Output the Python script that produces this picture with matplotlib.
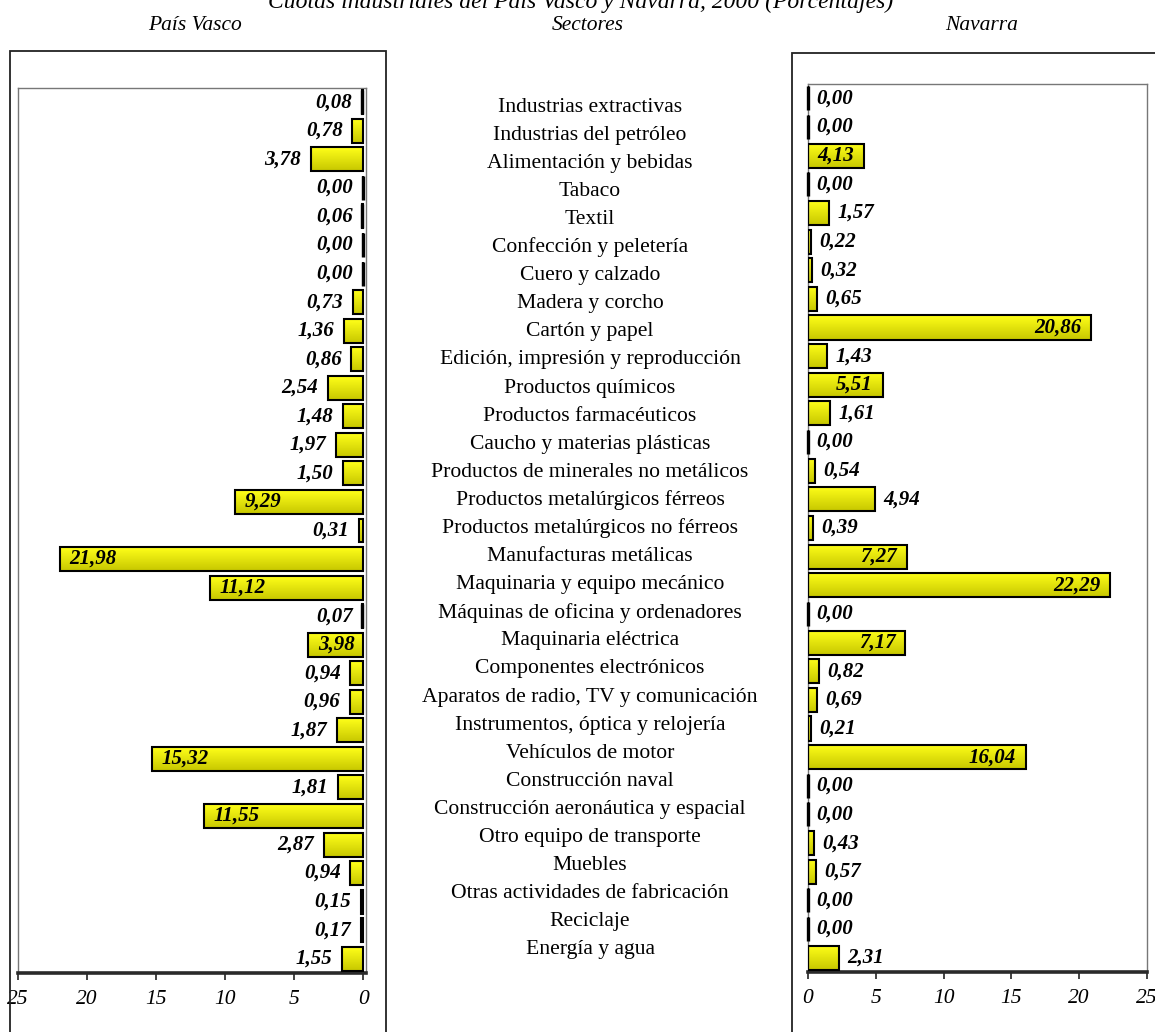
import numpy as np
import matplotlib
matplotlib.use('Agg')
import matplotlib.pyplot as plt
from matplotlib.patches import Rectangle

W, H = 1155, 1032

sectores = [
    'Industrias extractivas', 'Industrias del petróleo', 'Alimentación y bebidas',
    'Tabaco', 'Textil', 'Confección y peletería', 'Cuero y calzado',
    'Madera y corcho', 'Cartón y papel', 'Edición, impresión y reproducción',
    'Productos químicos', 'Productos farmacéuticos', 'Caucho y materias plásticas',
    'Productos de minerales no metálicos', 'Productos metalúrgicos férreos',
    'Productos metalúrgicos no férreos', 'Manufacturas metálicas',
    'Maquinaria y equipo mecánico', 'Máquinas de oficina y ordenadores',
    'Maquinaria eléctrica', 'Componentes electrónicos',
    'Aparatos de radio, TV y comunicación', 'Instrumentos, óptica y relojería',
    'Vehículos de motor', 'Construcción naval', 'Construcción aeronáutica y espacial',
    'Otro equipo de transporte', 'Muebles', 'Otras actividades de fabricación',
    'Reciclaje', 'Energía y agua',
]

pais_vasco = [0.08, 0.78, 3.78, 0.00, 0.06, 0.00, 0.00, 0.73, 1.36, 0.86,
              2.54, 1.48, 1.97, 1.50, 9.29, 0.31, 21.98, 11.12, 0.07, 3.98,
              0.94, 0.96, 1.87, 15.32, 1.81, 11.55, 2.87, 0.94, 0.15, 0.17, 1.55]

navarra = [0.00, 0.00, 4.13, 0.00, 1.57, 0.22, 0.32, 0.65, 20.86, 1.43,
           5.51, 1.61, 0.00, 0.54, 4.94, 0.39, 7.27, 22.29, 0.00, 7.17,
           0.82, 0.69, 0.21, 16.04, 0.00, 0.00, 0.43, 0.57, 0.00, 0.00, 2.31]

ticks = [0, 5, 10, 15, 20, 25]

# etiquetas que van dentro de la barra
dentro_pv = {14, 16, 17, 19, 23, 25}
dentro_na = {2, 8, 10, 16, 17, 19, 23}

SERIF = ['Liberation Serif', 'DejaVu Serif']
BAR_H = 0.84

# degradado vertical del relleno de las barras
grad = np.zeros((64, 1, 3))
t = np.linspace(0, 1, 64)
grad[:, 0, 0] = 1.0 - 0.22 * t
grad[:, 0, 1] = 1.0 - 0.22 * t
grad[:, 0, 2] = 0.10 * (1 - t)


def fmt(v):
    return f'{v:.2f}'.replace('.', ',')


def px(x0, y0, x1, y1):
    return [x0 / W, 1 - y1 / H, (x1 - x0) / W, (y1 - y0) / H]


def panel(ax, values, inside, reverse):
    idx = np.arange(len(values))
    bars = ax.barh(idx, values, height=BAR_H, facecolor='none',
                   edgecolor='black', linewidth=1.5, zorder=3)
    for i, (b, v) in enumerate(zip(bars, values)):
        if v > 0:
            im = ax.imshow(grad, extent=(0, v, i + BAR_H / 2, i - BAR_H / 2),
                           aspect='auto', zorder=2, interpolation='bilinear')
            im.set_clip_path(b)
        if v < 0.1:
            # las barras casi nulas se ven como un trazo negro
            ax.vlines(v, i - BAR_H / 2, i + BAR_H / 2, color='black',
                      linewidth=2.4, zorder=3, clip_on=False)
        if i in inside:
            dx, ha = (7, 'left') if reverse else (-7, 'right')
        else:
            dx, ha = (-7, 'right') if reverse else (6, 'left')
        ax.annotate(fmt(v), (v, i), xytext=(dx, 0), textcoords='offset points',
                    ha=ha, va='center', fontsize=15, fontweight='bold',
                    fontstyle='italic', family=SERIF, zorder=4)

    ax.set_ylim(len(values) - 0.5, -0.5)
    if reverse:
        ax.set_xlim(25, -0.2)
    else:
        ax.set_xlim(0, 25)
    ax.set_yticks([])
    ax.set_xticks(ticks)
    ax.set_xticklabels([str(x) for x in ticks], fontstyle='italic',
                       family=SERIF, fontsize=15.5)
    ax.tick_params(axis='x', direction='out', length=5, width=1.2,
                   color='#222222', pad=7)
    for s in ['top', 'left', 'right']:
        ax.spines[s].set_color('#777777')
        ax.spines[s].set_linewidth(1.0)
    ax.spines['bottom'].set_color('#2a2a2a')
    ax.spines['bottom'].set_linewidth(2.6)


fig = plt.figure(figsize=(W / 100, H / 100), dpi=100)

# marcos exteriores de cada panel
fig.patches.append(Rectangle((10 / W, 1 - 1045 / H), 376 / W, 994 / H,
                             transform=fig.transFigure, fill=False,
                             edgecolor='#222222', linewidth=1.3))
fig.patches.append(Rectangle((792 / W, 1 - 1045 / H), 380 / W, 992 / H,
                             transform=fig.transFigure, fill=False,
                             edgecolor='#222222', linewidth=1.3))

ax_pv = fig.add_axes(px(18, 88, 366, 973))
panel(ax_pv, pais_vasco, dentro_pv, reverse=True)

ax_na = fig.add_axes(px(808, 84, 1147, 972))
panel(ax_na, navarra, dentro_na, reverse=False)

# nombres de los sectores en el centro
ax_mid = fig.add_axes(px(420, 93, 760, 964))
ax_mid.axis('off')
ax_mid.set_xlim(0, 1)
ax_mid.set_ylim(len(sectores) - 0.5, -0.5)
for i, s in enumerate(sectores):
    ax_mid.text(0.5, i, s, ha='center', va='center', fontsize=15.6,
                family=SERIF)

fig.text(581 / W, 1 - 8 / H,
         'Cuotas industriales del País Vasco y Navarra, 2000 (Porcentajes)',
         ha='center', va='baseline', fontsize=17, fontstyle='italic',
         family=SERIF)
for x, s in [(195, 'País Vasco'), (588, 'Sectores'), (982, 'Navarra')]:
    fig.text(x / W, 1 - 25 / H, s, ha='center', va='center', fontsize=15.5,
             fontstyle='italic', family=SERIF)

fig.savefig('out.png', dpi=100)
